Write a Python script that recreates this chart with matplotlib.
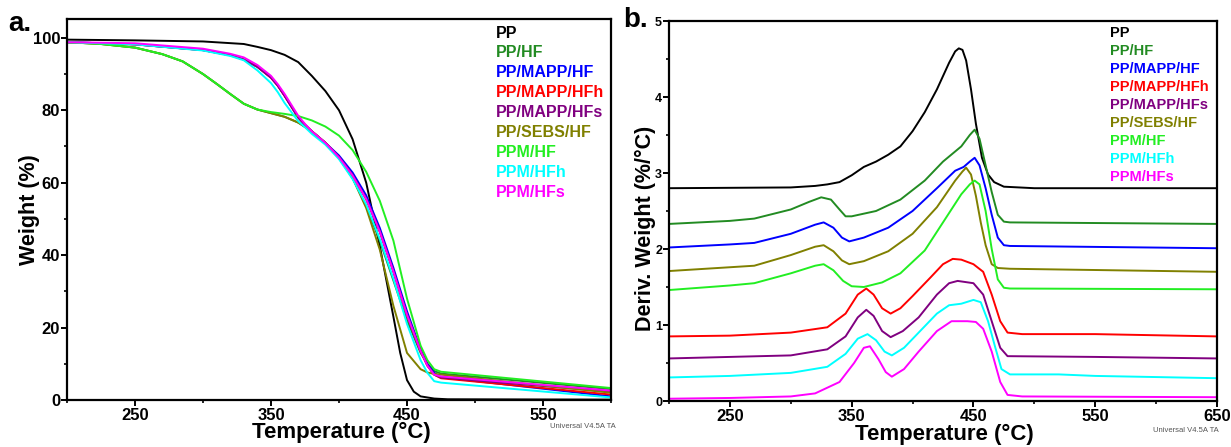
import matplotlib
matplotlib.use('Agg')
import matplotlib.pyplot as plt
from matplotlib.ticker import MultipleLocator

plt.rcParams['font.family'] = ['Liberation Sans', 'DejaVu Sans']
plt.rcParams['font.weight'] = 'bold'

# 시료 이름과 색
samples = ['PP', 'PP/HF', 'PP/MAPP/HF', 'PP/MAPP/HFh', 'PP/MAPP/HFs',
           'PP/SEBS/HF', 'PPM/HF', 'PPM/HFh', 'PPM/HFs']
colors = ['#000000', '#228B22', '#0000FF', '#FF0000', '#800080',
          '#808000', '#22EE22', '#00FFFF', '#FF00FF']

# ---- (a) TGA: 온도(°C) / 무게(%) ----
t_hf = [200, 225, 250, 270, 285, 300, 310, 320, 330, 340, 350, 360, 370, 380, 390, 400,
        410, 420, 430, 440, 450, 460, 465, 470, 475, 600]
t_mapp = [200, 250, 300, 320, 330, 340, 350, 355, 360, 365, 370, 375, 380, 390, 400,
          410, 420, 430, 440, 450, 460, 465, 470, 475, 600]
tga_t = {
    'PP': [200, 250, 300, 330, 340, 350, 360, 370, 380, 390, 400, 410, 420, 430, 440,
           445, 450, 455, 460, 470, 480, 600],
    'PP/HF': t_hf,
    'PP/MAPP/HF': t_mapp,
    'PP/MAPP/HFh': t_mapp,
    'PP/MAPP/HFs': t_mapp,
    'PP/SEBS/HF': t_hf,
    'PPM/HF': t_hf,
    'PPM/HFh': t_mapp,
    'PPM/HFs': t_mapp,
}
tga_w = {
    'PP': [99.5, 99.3, 99.0, 98.3, 97.5, 96.6, 95.3, 93.3, 89.5, 85.3, 80.0, 72.0, 60.0,
           42.5, 23.0, 13.0, 5.5, 2.3, 1.0, 0.4, 0.2, 0.1],
    'PP/HF': [98.8, 98.3, 97.3, 95.5, 93.5, 90.0, 87.3, 84.5, 81.8, 80.2, 79.2, 78.2, 76.6,
              74.2, 71.0, 66.8, 61.3, 53.5, 44.0, 33.0, 22.0, 13.0, 10.0, 8.0, 7.3, 3.0],
    'PP/MAPP/HF': [98.8, 98.2, 96.6, 95.2, 94.0, 92.0, 89.0, 86.8, 84.0, 81.0, 78.0, 76.0,
                   74.2, 71.0, 67.5, 62.8, 56.5, 47.5, 36.5, 24.5, 14.0, 10.0, 7.5, 6.3, 1.0],
    'PP/MAPP/HFh': [98.8, 98.2, 96.6, 95.2, 94.0, 92.0, 89.0, 86.8, 84.0, 81.0, 78.0, 76.0,
                    74.2, 71.0, 67.0, 62.0, 55.5, 46.5, 35.5, 23.5, 13.5, 9.5, 7.0, 6.0, 1.5],
    'PP/MAPP/HFs': [98.8, 98.2, 96.6, 95.2, 94.0, 92.0, 89.0, 86.8, 84.0, 81.0, 78.0, 76.0,
                    74.2, 71.0, 67.0, 62.0, 55.5, 46.5, 35.5, 23.5, 13.5, 9.5, 7.0, 6.2, 2.3],
    'PP/SEBS/HF': [98.8, 98.3, 97.3, 95.5, 93.5, 90.0, 87.3, 84.5, 81.8, 80.2, 79.2, 78.2,
                   76.6, 74.2, 71.0, 66.8, 61.3, 53.0, 41.5, 26.0, 13.0, 8.5, 7.6, 7.2, 7.0, 2.0],
    'PPM/HF': [98.8, 98.3, 97.3, 95.5, 93.5, 90.0, 87.3, 84.5, 81.8, 80.2, 79.5, 79.0, 78.4,
               77.2, 75.5, 73.0, 69.0, 63.0, 55.0, 44.0, 28.0, 15.0, 11.0, 8.5, 7.8, 3.3],
    'PPM/HFh': [98.8, 98.2, 96.5, 95.0, 93.8, 91.0, 87.5, 85.0, 82.0, 79.5, 77.0, 75.3,
                73.5, 70.5, 66.5, 61.0, 54.0, 44.5, 33.5, 21.0, 11.0, 7.5, 5.2, 4.8, 0.7],
    'PPM/HFs': [98.8, 98.5, 97.0, 95.6, 94.6, 92.5, 89.5, 87.2, 84.5, 81.5, 78.5, 76.2,
                74.2, 71.0, 67.0, 62.0, 55.5, 46.5, 35.5, 23.5, 13.5, 9.5, 7.0, 6.5, 2.6],
}

# ---- (b) DTG: 온도(°C) / 미분 무게(%/°C) ----
dtg_t = {
    'PP': [200, 300, 320, 330, 340, 350, 360, 370, 380, 390, 400, 410, 420, 430, 435, 438,
           441, 444, 448, 452, 457, 462, 467, 475, 500, 650],
    'PP/HF': [200, 250, 270, 300, 315, 325, 333, 340, 345, 350, 370, 390, 410, 425, 440,
              447, 451, 455, 460, 465, 470, 475, 480, 650],
    'PP/MAPP/HF': [200, 250, 270, 300, 320, 327, 335, 342, 348, 360, 380, 400, 420, 435,
                   442, 447, 451, 455, 460, 465, 470, 475, 480, 650],
    'PP/MAPP/HFh': [200, 250, 300, 330, 345, 355, 362, 368, 375, 382, 390, 400, 415, 425,
                    433, 440, 450, 458, 465, 472, 478, 490, 550, 650],
    'PP/MAPP/HFs': [200, 250, 300, 330, 345, 355, 362, 368, 375, 382, 392, 405, 420, 430,
                    437, 450, 458, 465, 472, 478, 550, 650],
    'PP/SEBS/HF': [200, 250, 270, 300, 320, 327, 335, 342, 348, 360, 380, 400, 420, 435,
                   441, 444, 448, 452, 456, 460, 465, 470, 480, 650],
    'PPM/HF': [200, 250, 270, 300, 320, 327, 335, 343, 350, 360, 375, 390, 410, 425, 440,
               447, 451, 455, 460, 465, 470, 475, 480, 650],
    'PPM/HFh': [200, 250, 300, 330, 345, 355, 363, 370, 377, 383, 393, 405, 420, 430, 440,
                450, 456, 462, 468, 473, 480, 520, 550, 650],
    'PPM/HFs': [200, 250, 300, 320, 340, 352, 360, 365, 372, 378, 383, 393, 405, 420, 432,
                445, 452, 458, 465, 472, 478, 490, 650],
}
dtg_d = {
    'PP': [2.80, 2.81, 2.83, 2.85, 2.88, 2.97, 3.08, 3.15, 3.24, 3.35, 3.55, 3.80, 4.10,
           4.45, 4.60, 4.64, 4.62, 4.48, 4.10, 3.65, 3.20, 2.98, 2.88, 2.82, 2.80, 2.80],
    'PP/HF': [2.33, 2.37, 2.40, 2.52, 2.62, 2.68, 2.65, 2.52, 2.43, 2.43, 2.50, 2.65, 2.90,
              3.15, 3.35, 3.50, 3.57, 3.45, 3.10, 2.75, 2.45, 2.36, 2.35, 2.33],
    'PP/MAPP/HF': [2.02, 2.06, 2.08, 2.20, 2.32, 2.35, 2.28, 2.15, 2.10, 2.15, 2.28, 2.50,
                   2.80, 3.03, 3.08, 3.15, 3.20, 3.10, 2.80, 2.45, 2.15, 2.05, 2.04, 2.01],
    'PP/MAPP/HFh': [0.85, 0.86, 0.90, 0.97, 1.15, 1.40, 1.48, 1.40, 1.22, 1.15, 1.22, 1.38,
                    1.63, 1.80, 1.87, 1.86, 1.80, 1.70, 1.40, 1.05, 0.90, 0.88, 0.88, 0.85],
    'PP/MAPP/HFs': [0.56, 0.58, 0.60, 0.68, 0.85, 1.10, 1.20, 1.12, 0.92, 0.84, 0.92, 1.10,
                    1.40, 1.55, 1.58, 1.55, 1.40, 1.05, 0.70, 0.59, 0.58, 0.56],
    'PP/SEBS/HF': [1.71, 1.76, 1.78, 1.92, 2.03, 2.05, 1.97, 1.85, 1.80, 1.84, 1.97, 2.20,
                   2.55, 2.90, 3.02, 3.07, 2.98, 2.70, 2.35, 2.05, 1.80, 1.75, 1.74, 1.70],
    'PPM/HF': [1.46, 1.52, 1.55, 1.68, 1.78, 1.80, 1.72, 1.58, 1.51, 1.50, 1.56, 1.68, 1.98,
               2.35, 2.72, 2.85, 2.90, 2.85, 2.50, 2.00, 1.60, 1.49, 1.48, 1.47],
    'PPM/HFh': [0.31, 0.33, 0.37, 0.45, 0.62, 0.82, 0.88, 0.80, 0.65, 0.60, 0.70, 0.90,
                1.15, 1.26, 1.28, 1.33, 1.30, 1.05, 0.70, 0.42, 0.35, 0.35, 0.33, 0.30],
    'PPM/HFs': [0.03, 0.04, 0.06, 0.10, 0.25, 0.50, 0.70, 0.72, 0.55, 0.38, 0.32, 0.42,
                0.65, 0.92, 1.05, 1.05, 1.04, 0.95, 0.65, 0.25, 0.08, 0.06, 0.05],
}

W, H = 1231, 447
fig = plt.figure(figsize=(W / 100, H / 100), dpi=100)


def px_axes(x0, y0, x1, y1):
    # 픽셀 좌표(위에서 아래) -> figure 비율
    return fig.add_axes([x0 / W, 1 - y1 / H, (x1 - x0) / W, (y1 - y0) / H])


def style_axes(ax, ysize):
    for s in ax.spines.values():
        s.set_linewidth(1.6)
    ax.tick_params(which='major', direction='out', length=4, width=1.4)
    ax.tick_params(which='minor', direction='out', length=2.5, width=1.2)
    ax.tick_params(axis='x', labelsize=12, pad=2)
    ax.tick_params(axis='y', labelsize=ysize, pad=1)
    for lab in ax.get_xticklabels() + ax.get_yticklabels():
        lab.set_fontweight('bold')


# (a)
ax1 = px_axes(67, 19, 611, 400)
for name, c in zip(samples, colors):
    ax1.plot(tga_t[name], tga_w[name], color=c, lw=1.4)
ax1.set_xlim(200, 600)
ax1.set_ylim(0, 105.2)
ax1.set_xticks([250, 350, 450, 550])
ax1.xaxis.set_minor_locator(MultipleLocator(50))
ax1.set_yticks([0, 20, 40, 60, 80, 100])
ax1.yaxis.set_minor_locator(MultipleLocator(10))
style_axes(ax1, 12)

# (b)
ax2 = px_axes(669, 21, 1217, 401)
for name, c in zip(samples, colors):
    ax2.plot(dtg_t[name], dtg_d[name], color=c, lw=1.4)
ax2.set_xlim(200, 650)
ax2.set_ylim(0, 5)
ax2.set_xticks([250, 350, 450, 550, 650])
ax2.xaxis.set_minor_locator(MultipleLocator(50))
ax2.set_yticks([0, 1, 2, 3, 4, 5])
ax2.yaxis.set_minor_locator(MultipleLocator(0.5))
style_axes(ax2, 9)

# 범례 (색 글씨만)
for i, (name, c) in enumerate(zip(samples, colors)):
    fig.text(496 / W, 1 - (33 + i * 19.9) / H, name, color=c, fontsize=11.5,
             fontweight='bold', ha='left', va='center')
    fig.text(1110 / W, 1 - (33 + i * 18) / H, name, color=c, fontsize=10.5,
             fontweight='bold', ha='left', va='center')

# 축 제목
fig.text(30 / W, 1 - 210 / H, 'Weight (%)', rotation=90, fontsize=15.5,
         fontweight='bold', ha='center', va='center')
fig.text(645 / W, 1 - 228 / H, 'Deriv. Weight (%/°C)', rotation=90, fontsize=15.5,
         fontweight='bold', ha='center', va='center')
fig.text(341 / W, 1 - 432 / H, 'Temperature (°C)', fontsize=16,
         fontweight='bold', ha='center', va='center')
fig.text(944 / W, 1 - 434 / H, 'Temperature (°C)', fontsize=16,
         fontweight='bold', ha='center', va='center')

# 패널 라벨
fig.text(8 / W, 1 - 24 / H, 'a.', fontsize=20, fontweight='bold', ha='left', va='center')
fig.text(623 / W, 1 - 20 / H, 'b.', fontsize=20, fontweight='bold', ha='left', va='center')

# 장비 표시
fig.text(550 / W, 1 - 427 / H, 'Universal V4.5A TA', fontsize=5.5, color='#555555',
         fontweight='normal', ha='left', va='center')
fig.text(1153 / W, 1 - 430 / H, 'Universal V4.5A TA', fontsize=5.5, color='#555555',
         fontweight='normal', ha='left', va='center')

fig.savefig('out.png', dpi=100)
